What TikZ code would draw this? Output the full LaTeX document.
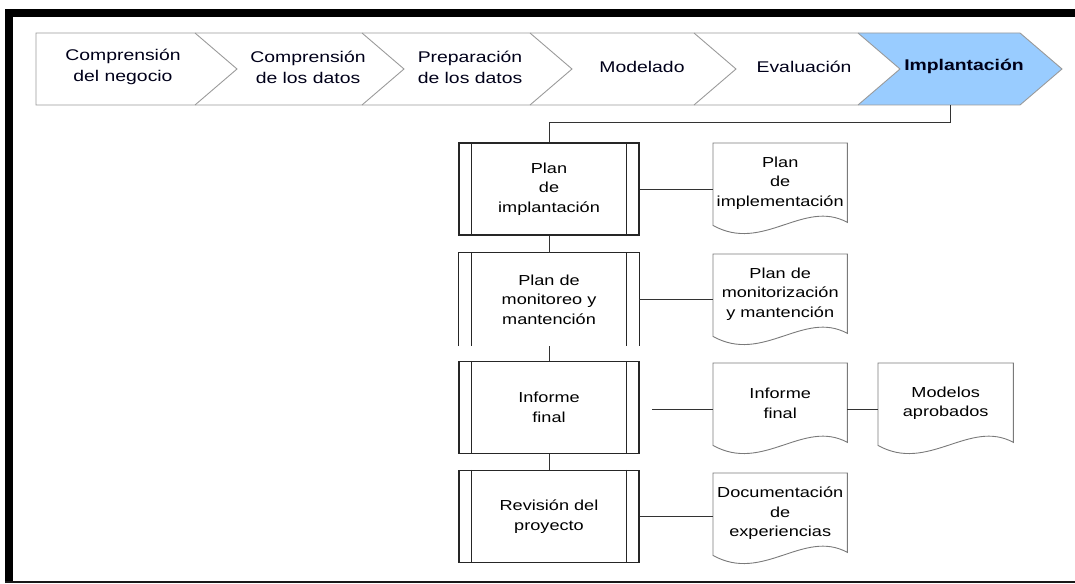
\documentclass[tikz,border=0pt]{standalone}
\usepackage{fontspec}
\newfontfamily\wfont{Liberation Sans}[FakeStretch=1.25]
\definecolor{chevblue}{HTML}{99CCFF}
\definecolor{chevline}{HTML}{9A9A9A}
\definecolor{docgray}{HTML}{7A7A7A}
\newcommand\docoutline[1]{%
  \draw[docline] (#1.north west) -- (#1.north east) -- ([yshift=1pt]#1.south east)
    .. controls ([xshift=-44pt,yshift=25pt]#1.south east) and ([xshift=50pt,yshift=-30pt]#1.south west)
    .. ([yshift=-2pt]#1.south west) -- cycle;}
\begin{document}
\begin{tikzpicture}[x=1pt,y=-1pt,
  chev/.style={draw=chevline, line width=0.9pt, line join=miter},
  chevtext/.style={font=\wfont\fontsize{15.5}{21}\selectfont, align=center, inner sep=0, text=black!90!blue},
  lowtext/.style={font=\wfont\fontsize{14.5}{19.5}\selectfont, align=center, inner sep=0},
  innerl/.style={draw=black!85, line width=0.8pt},
  proc/.style={lowtext, draw=black!85, line width=1.2pt, minimum width=180pt, minimum height=92pt,
    append after command={([xshift=13pt]\tikzlastnode.north west) edge[innerl] ([xshift=13pt]\tikzlastnode.south west)
      ([xshift=-13pt]\tikzlastnode.north east) edge[innerl] ([xshift=-13pt]\tikzlastnode.south east)}},
  procopen/.style={lowtext, minimum width=180pt, minimum height=93pt,
    append after command={([xshift=13pt]\tikzlastnode.north west) edge[innerl] ([xshift=13pt]\tikzlastnode.south west)
      ([xshift=-13pt]\tikzlastnode.north east) edge[innerl] ([xshift=-13pt]\tikzlastnode.south east)}},
  docnode/.style={lowtext, minimum width=134pt, minimum height=80pt, anchor=north west},
  docline/.style={draw=docgray, line width=0.9pt},
  conn/.style={draw=black!80, line width=0.9pt}
]
\useasboundingbox (0,0) rectangle (1075,583);
% frame
\fill[black] (5,9) rectangle (1075,17);
\fill[black] (5,9) rectangle (13,583);
\fill[black!90] (5,580.5) rectangle (1075,583);

% chevrons
\fill[chevblue] (858,33) -- (1020,33) -- (1062,69) -- (1020,105) -- (858,105) -- (900,69) -- cycle;
\draw[chev] (36,33) -- (195,33) -- (237,69) -- (195,105) -- (36,105) -- cycle;
\draw[chev] (195,33) -- (362,33) -- (404,69) -- (362,105) -- (195,105);
\draw[chev] (362,33) -- (530,33) -- (572,69) -- (530,105) -- (362,105);
\draw[chev] (530,33) -- (694,33) -- (736,69) -- (694,105) -- (530,105);
\draw[chev] (694,33) -- (858,33) -- (900,69) -- (858,105) -- (694,105);
\draw[chev] (858,33) -- (1020,33) -- (1062,69) -- (1020,105) -- (858,105);

\node[chevtext] (c1) at (123,67) {Comprensión\\del negocio};
\node[chevtext] (c2) at (308,67) {Comprensión\\de los datos};
\node[chevtext] (c3) at (470,67) {Preparación\\de los datos};
\node[chevtext] (c4) at (642,67) {Modelado};
\node[chevtext] (c5) at (804,67) {Evaluación};
\node[chevtext,font=\wfont\bfseries\fontsize{15.5}{21}\selectfont] (c6) at (964,66) {Implantación};
\coordinate (c6b) at (950,105);
\coordinate (c6k) at (950,122);

% process boxes
\node[proc] (b1) at (549,189) {Plan\\de\\implantación};
\node[procopen] (b2) at (549,299.5) {Plan de\\monitoreo y\\mantención};
\draw[draw=black!85, line width=1.2pt] (b2.south west) -- (b2.north west) -- (b2.north east) -- (b2.south east);
\node[proc] (b3) at (549,407.5) {Informe\\final};
\node[proc] (b4) at (549,516.5) {Revisión del\\proyecto};

% documents
\node[docnode] (d1) at (713,143) {Plan\\de\\implementación};
\node[docnode] (d2) at (713,254) {Plan de\\monitorización\\y mantención};
\node[docnode] (d3) at (713,363) {Informe\\final};
\node[docnode, minimum width=135pt] (d5) at (878,363) {Modelos\\aprobados};
\node[docnode] (d4) at (713,473) {Documentación\\de\\experiencias};
\docoutline{d1}
\docoutline{d2}
\docoutline{d3}
\docoutline{d4}
\docoutline{d5}

% connectors
\draw[conn] (c6b) -- (c6k) -| (b1.north);
\draw[conn] (b1.south) -- (b2.north);
\draw[conn] (b2.south) -- (b3.north);
\draw[conn] (b3.south) -- (b4.north);
\draw[conn] (b1.east) -- (b1.east -| d1.west);
\draw[conn] (b2.east) -- (b2.east -| d2.west);
\coordinate (b3o) at (652,409);
\draw[conn] (b3o) -- (b3o -| d3.west);
\draw[conn] (b4.east) -- (b4.east -| d4.west);
\draw[conn] ([yshift=-6pt]d3.east) -- ([yshift=-6pt]d5.west);
\end{tikzpicture}
\end{document}
